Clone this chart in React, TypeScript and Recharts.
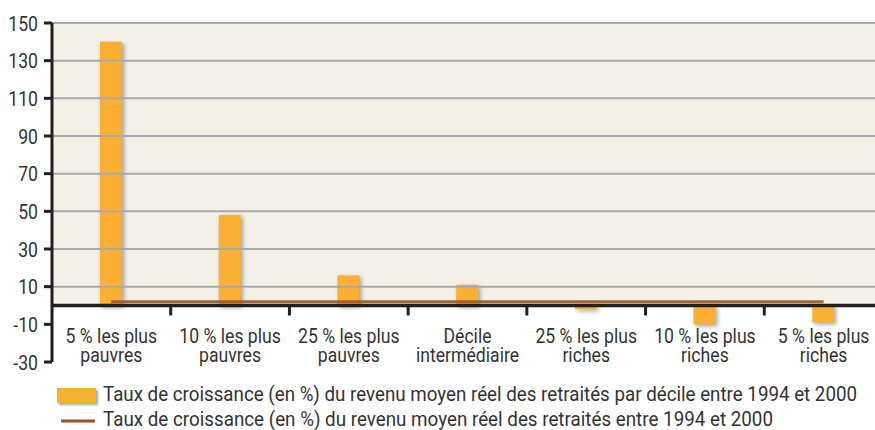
import React from 'react';
import { ComposedChart, Bar, Line, XAxis, YAxis, ReferenceArea, ReferenceLine } from 'recharts';

const categories = [
  '5 % les plus\npauvres',
  '10 % les plus\npauvres',
  '25 % les plus\npauvres',
  'Décile\nintermédiaire',
  '25 % les plus\nriches',
  '10 % les plus\nriches',
  '5 % les plus\nriches',
];
const decileGrowth = [140, 48, 16, 11, -2, -10, -9];
const averageGrowth = [2, 2, 2, 2, 2, 2, 2];
const yTicks = [-30, -10, 10, 30, 50, 70, 90, 110, 130, 150];
const legendLabels = [
  'Taux de croissance (en %) du revenu moyen réel des retraités par décile entre 1994 et 2000',
  'Taux de croissance (en %) du revenu moyen réel des retraités entre 1994 et 2000',
];

const data = categories.map((name, i) => ({ name, decile: decileGrowth[i], moyenne: averageGrowth[i] }));

const FONT = "Roboto, 'Liberation Sans', sans-serif";
const SQUEEZE = 0.84; // fake a condensed face
const BAR_COLOR = '#fbb034';
const LINE_COLOR = '#9c5424';
const AXIS_COLOR = '#231f20';
const TEXT_COLOR = '#333';

// layout
const W = 883;
const H = 380;
const TOP = 23;
const LEFT = 52;
const X_AXIS_H = 18;
const PLOT_H = H - TOP - X_AXIS_H;
const Y_MIN = yTicks[0];
const Y_MAX = yTicks[yTicks.length - 1];
const ZERO_Y = TOP + (Y_MAX / (Y_MAX - Y_MIN)) * PLOT_H;
const BAND = (W - LEFT) / categories.length;

const CategoryTick = (props: any) => {
  const { x, payload, index } = props;
  const lines = String(payload.value).split('\n');
  return (
    <g>
      {index > 0 && (
        <line x1={x - BAND / 2} x2={x - BAND / 2} y1={ZERO_Y} y2={ZERO_Y + 10} stroke={AXIS_COLOR} strokeWidth={3} />
      )}
      <g transform={`translate(${x},${ZERO_Y + 37}) scale(${SQUEEZE},1)`}>
        <text x={0} y={0} textAnchor="middle" fontSize={21} fill={TEXT_COLOR} fontFamily={FONT}>
          {lines.map((l, i) => (
            <tspan key={i} x={0} dy={i === 0 ? 0 : 19}>{l}</tspan>
          ))}
        </text>
      </g>
    </g>
  );
};

const ValueTick = (props: any) => {
  const { x, y, payload } = props;
  return (
    <g transform={`translate(${x},${y}) scale(${SQUEEZE},1)`}>
      <text x={0} y={0} dy="0.36em" textAnchor="end" fontSize={21} fill={TEXT_COLOR} fontFamily={FONT}>
        {payload.value}
      </text>
    </g>
  );
};

const App: React.FC = () => {
  return (
    <div style={{ position: 'absolute', left: 0, top: 0, width: 875, height: 430, overflow: 'hidden', background: '#fff' }}>
      <ComposedChart width={W} height={H} data={data} margin={{ top: TOP, right: 0, bottom: 0, left: 0 }} barCategoryGap={0}>
        <ReferenceArea y1={0} y2={Y_MAX} fill="#f3f0e8" fillOpacity={1} stroke="none" />
        {yTicks.filter((v) => v > 0).map((v) => (
          <ReferenceLine key={v} y={v} stroke="#a9a9ab" strokeWidth={2} />
        ))}
        <XAxis
          dataKey="name"
          interval={0}
          height={X_AXIS_H}
          axisLine={false}
          tickLine={false}
          tick={<CategoryTick />}
        />
        <YAxis
          domain={[Y_MIN, Y_MAX]}
          ticks={yTicks}
          interval={0}
          width={LEFT}
          axisLine={{ stroke: AXIS_COLOR, strokeWidth: 3 }}
          tickLine={{ stroke: AXIS_COLOR, strokeWidth: 3 }}
          tickSize={8}
          tickMargin={6}
          tick={<ValueTick />}
        />
        <Bar
          dataKey="decile"
          fill={BAR_COLOR}
          barSize={22}
          isAnimationActive={false}
          style={{ filter: 'drop-shadow(2px 2px 2px rgba(0,0,0,0.35))' }}
        />
        <ReferenceLine y={0} stroke={AXIS_COLOR} strokeWidth={3.5} />
        <Line
          type="linear"
          dataKey="moyenne"
          stroke={LINE_COLOR}
          strokeOpacity={0.9}
          strokeWidth={3}
          dot={false}
          activeDot={false}
          isAnimationActive={false}
        />
      </ComposedChart>
      <svg width={875} height={60} style={{ position: 'absolute', left: 0, top: 370 }}>
        <rect x={57} y={18} width={39} height={15} fill={BAR_COLOR} style={{ filter: 'drop-shadow(2px 2px 1px rgba(0,0,0,0.35))' }} />
        <text x={103} y={31} fontSize={20} fill={TEXT_COLOR} fontFamily={FONT} textLength={754} lengthAdjust="spacingAndGlyphs">
          {legendLabels[0]}
        </text>
        <line x1={61} x2={95} y1={51} y2={51} stroke={LINE_COLOR} strokeWidth={3} />
        <text x={103} y={56} fontSize={20} fill={TEXT_COLOR} fontFamily={FONT} textLength={670} lengthAdjust="spacingAndGlyphs">
          {legendLabels[1]}
        </text>
      </svg>
    </div>
  );
};

export default App;
